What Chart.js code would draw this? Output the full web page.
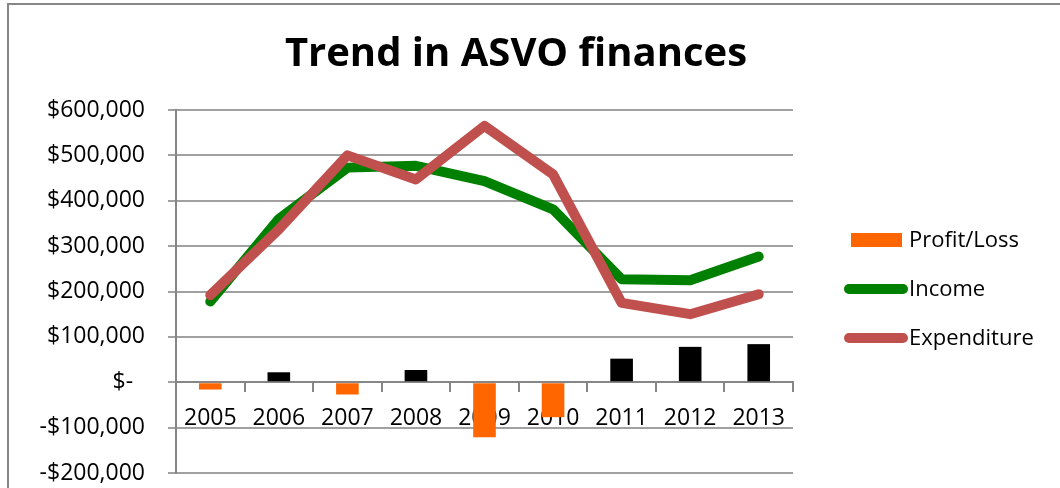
<!DOCTYPE html>
<html>
<head>
<meta charset="utf-8">
<script src="https://cdn.jsdelivr.net/npm/chart.js@4"></script>
<style>
  html, body { margin: 0; padding: 0; background: #fff; overflow: hidden; }
  #wrap { width: 1060px; height: 488px; }
</style>
</head>
<body>
<div id="wrap"><canvas id="chartAsvo" width="1060" height="488"></canvas></div>
<script>
const years = ['2005', '2006', '2007', '2008', '2009', '2010', '2011', '2012', '2013'];
const income = [178000, 360000, 473000, 477000, 443000, 381000, 227000, 225000, 277000];
const expenditure = [192000, 337000, 500000, 447000, 565000, 458000, 175000, 150000, 194000];
const profitLoss = [-16000, 22000, -27000, 27000, -121000, -77000, 52000, 78000, 84000];
const yTicks = [-200000, -100000, 0, 100000, 200000, 300000, 400000, 500000, 600000];

const FONT = 'Open Sans';

function money(v) {
  if (v === 0) return '$-  ';
  return (v < 0 ? '-$' : '$') + Math.abs(v).toLocaleString('en-US');
}

// frame, title and legend drawn by hand like the spreadsheet chart
const extras = {
  id: 'extras',
  beforeDraw(chart) {
    const c = chart.ctx;
    c.save();
    c.strokeStyle = '#868686';
    c.lineWidth = 2;
    c.beginPath();
    c.moveTo(8, 488);
    c.lineTo(8, 4);
    c.lineTo(1060, 4);
    c.stroke();
    c.restore();
  },
  afterDraw(chart) {
    const c = chart.ctx;
    const area = chart.chartArea;
    c.save();
    c.fillStyle = '#000';
    c.font = 'bold 40px "' + FONT + '"';
    c.textAlign = 'center';
    c.textBaseline = 'middle';
    c.fillText('Trend in ASVO finances', 516, 55);

    c.font = '22px "' + FONT + '"';
    c.textAlign = 'left';
    const rows = [240, 289, 338];
    chart.data.datasets.forEach(function (ds, i) {
      const y = rows[i];
      const x0 = area.right + 56;
      if (ds.type === 'bar') {
        c.fillStyle = '#FF6600';
        c.fillRect(x0 + 2, y - 7, 51, 14);
      } else {
        c.strokeStyle = ds.borderColor;
        c.lineWidth = 10;
        c.lineCap = 'round';
        c.beginPath();
        c.moveTo(x0, y);
        c.lineTo(x0 + 54, y);
        c.stroke();
      }
      c.fillStyle = '#000';
      c.fillText(ds.label, area.right + 116, y + 1);
    });
    c.restore();
  }
};

const ctx = document.getElementById('chartAsvo').getContext('2d');

new Chart(ctx, {
  data: {
    labels: years,
    datasets: [
      {
        type: 'bar',
        label: 'Profit/Loss',
        data: profitLoss,
        backgroundColor: function (c) { return c.raw < 0 ? '#FF6600' : '#000000'; },
        barPercentage: 0.33,
        categoryPercentage: 1,
        order: 3
      },
      {
        type: 'line',
        label: 'Income',
        data: income,
        borderColor: '#008000',
        borderWidth: 10,
        borderCapStyle: 'round',
        borderJoinStyle: 'round',
        pointRadius: 0,
        tension: 0,
        order: 2
      },
      {
        type: 'line',
        label: 'Expenditure',
        data: expenditure,
        borderColor: '#C0504D',
        borderWidth: 10,
        borderCapStyle: 'round',
        borderJoinStyle: 'round',
        pointRadius: 0,
        tension: 0,
        order: 1
      }
    ]
  },
  options: {
    responsive: false,
    animation: false,
    layout: { padding: { left: 0, top: 110, right: 267, bottom: 15 } },
    plugins: {
      legend: { display: false },
      title: { display: false },
      tooltip: { enabled: false }
    },
    scales: {
      x: {
        position: { y: 0 },
        offset: true,
        z: 1,
        afterFit: function (s) {
          s.height = 0;
          s.paddingTop = 0;
          s.paddingBottom = 0;
        },
        grid: {
          offset: true,
          drawOnChartArea: false,
          drawTicks: true,
          tickLength: 9,
          color: '#868686',
          lineWidth: 2
        },
        border: { color: '#868686', width: 2 },
        ticks: { color: '#000', font: { family: FONT, size: 23 }, padding: 13, maxRotation: 0 }
      },
      y: {
        min: -200000,
        max: 600000,
        afterFit: function (s) {
          s.width = 176;
          s.paddingTop = 0;
          s.paddingBottom = 0;
        },
        afterBuildTicks: function (s) { s.ticks = yTicks.map(function (v) { return { value: v }; }); },
        grid: { color: '#a0a0a0', lineWidth: 2, tickLength: 8 },
        border: { color: '#868686', width: 2 },
        ticks: {
          color: '#000',
          font: { family: FONT, size: 23 },
          padding: 23,
          callback: function (v) { return money(v); }
        }
      }
    }
  },
  plugins: [extras]
});
</script>
</body>
</html>
